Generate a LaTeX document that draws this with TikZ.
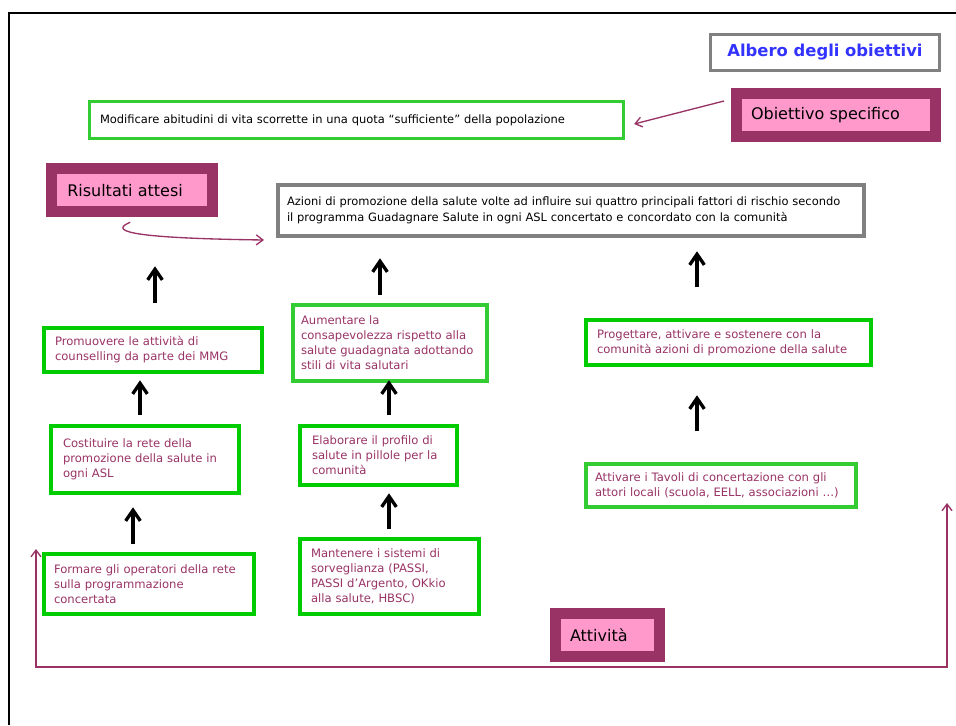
\documentclass[tikz,border=0pt]{standalone}
\usepackage{fontspec}
\setmainfont{DejaVu Sans}
\usepackage{xcolor}
\usetikzlibrary{arrows.meta, calc}

\definecolor{plum}{HTML}{993366}
\definecolor{pinkfill}{HTML}{FF99CC}
\definecolor{grnA}{HTML}{00CC00}
\definecolor{grnB}{HTML}{33CC33}
\definecolor{greyline}{HTML}{808080}
\definecolor{titleblue}{HTML}{3333FF}
\newdimen\px \px=0.75pt

\begin{document}
\begin{tikzpicture}[x=0.75pt, y=-0.75pt,
  titlebox/.style={rectangle, draw=greyline, line width=2.3pt, fill=white, minimum width=229\px, minimum height=36\px, font=\bfseries\fontsize{12.3}{14}\selectfont, text=titleblue},
  tagbox/.style={rectangle, draw=plum, line width=8.25pt, fill=pinkfill, minimum height=43\px, inner xsep=14.5\px, align=left, font=\fontsize{12}{14}\selectfont},
  goalbox/.style={rectangle, draw=grnB, line width=2.4pt, fill=white, inner xsep=10.5\px, align=left, font=\fontsize{8.6}{12}\selectfont},
  actionbox/.style={rectangle, draw=greyline, line width=3pt, fill=white, inner xsep=9\px, align=left, font=\fontsize{8.6}{12}\selectfont},
  rowbox/.style={rectangle, draw=grnA, line width=2.6pt, fill=white, inner xsep=11\px, align=left, text=plum, font=\fontsize{8.7}{11.3}\selectfont},
  up/.style={-{Straight Barb[length=8pt, width=11pt]}, line width=2.5pt},
  link/.style={plum, line width=1pt, -{Straight Barb[length=5pt, width=7.5pt]}}
]
\useasboundingbox (0,0) rectangle (956,725);
\fill[white] (0,0) rectangle (956,725);
\draw[line width=2pt] (9,725) -- (9,13) -- (956,13);

% header
\node[titlebox] (title) at (825,52.5) {Albero degli obiettivi};
\node[goalbox, text width=513\px, minimum height=37\px] (goal) at (356.5,120) {Modificare abitudini di vita scorrette in una quota “sufficiente” della popolazione};
\node[tagbox, text width=170\px] (obj) at (836,115) {Obiettivo specifico};
\node[tagbox, text width=130\px, inner xsep=15.5\px] (risultati) at (132.25,190.25) {Risultati attesi};
\node[actionbox, text width=568\px, minimum height=51\px] (azioni) at (571,210.5) {Azioni di promozione della salute volte ad influire sui quattro principali fattori di rischio secondo\\il programma Guadagnare Salute in ogni ASL concertato e concordato con la comunità};

% columns
\node[rowbox, text width=196\px, minimum height=44\px] (L1) at (153,350) {Promuovere le attività di\\counselling da parte dei MMG};
\node[rowbox, draw=grnB, text width=178\px, minimum height=76\px, inner xsep=8\px] (M1) at (390,343) {Aumentare la\\consapevolezza rispetto alla\\salute guadagnata adottando\\stili di vita salutari};
\node[rowbox, text width=263\px, minimum height=45\px] (R1) at (728.5,342.5) {Progettare, attivare e sostenere con la\\comunità azioni di promozione della salute};
\node[rowbox, text width=164\px, minimum height=67\px, inner xsep=12\px] (L2) at (145,459.5) {Costituire la rete della\\promozione della salute in\\ogni ASL};
\node[rowbox, text width=133\px, minimum height=59\px, inner xsep=12\px] (M2) at (378.5,455.5) {Elaborare il profilo di\\salute in pillole per la\\comunità};
\node[rowbox, draw=grnB, text width=252\px, minimum height=43\px, inner xsep=9\px] (R2) at (721,485.5) {Attivare i Tavoli di concertazione con gli\\attori locali (scuola, EELL, associazioni …)};
\node[rowbox, text width=190\px, minimum height=60\px, inner xsep=10\px] (L3) at (149,584) {Formare gli operatori della rete\\sulla programmazione\\concertata};
\node[rowbox, text width=157\px, minimum height=75\px] (M3) at (389.5,576.5) {Mantenere i sistemi di\\sorveglianza (PASSI,\\PASSI d’Argento, OKkio\\alla salute, HBSC)};
\node[tagbox, text width=75\px] (attivita) at (607.5,635) {Attività};

% black arrows
\draw[up] (L1.north) ++(2,-23) -- ++(0,-37);
\draw[up] (M1.north) ++(-10,-8) -- ++(0,-37);
\draw[up] (R1.north) ++(-31.5,-31) -- ++(0,-36);
\draw[up] (L2.north) ++(-5,-9) -- ++(0,-35);
\draw[up] (M2.north) ++(10.5,-9) -- ++(0,-35);
\draw[up] (R2.north) ++(-24,-31) -- ++(0,-36);
\draw[up] (L3.north) ++(-16,-8) -- ++(0,-37);
\draw[up] (M3.north) ++(-0.5,-8) -- ++(0,-36);

% magenta links
\draw[link] ($(obj.west)+(-7,-14)$) -- ($(goal.east)+(9,4)$);
\draw[link] (risultati.south) ++(-2,5) .. controls (112,230) and (118,238) .. ($(azioni.south west)+(-12,2)$);
\coordinate (loopL) at (36,549);
\coordinate (loopR) at (947,503);
\draw[link, {Straight Barb[length=5pt, width=7.5pt]}-{Straight Barb[length=5pt, width=7.5pt]}] (loopL) -- ++(0,118) -| (loopR);
\end{tikzpicture}
\end{document}
